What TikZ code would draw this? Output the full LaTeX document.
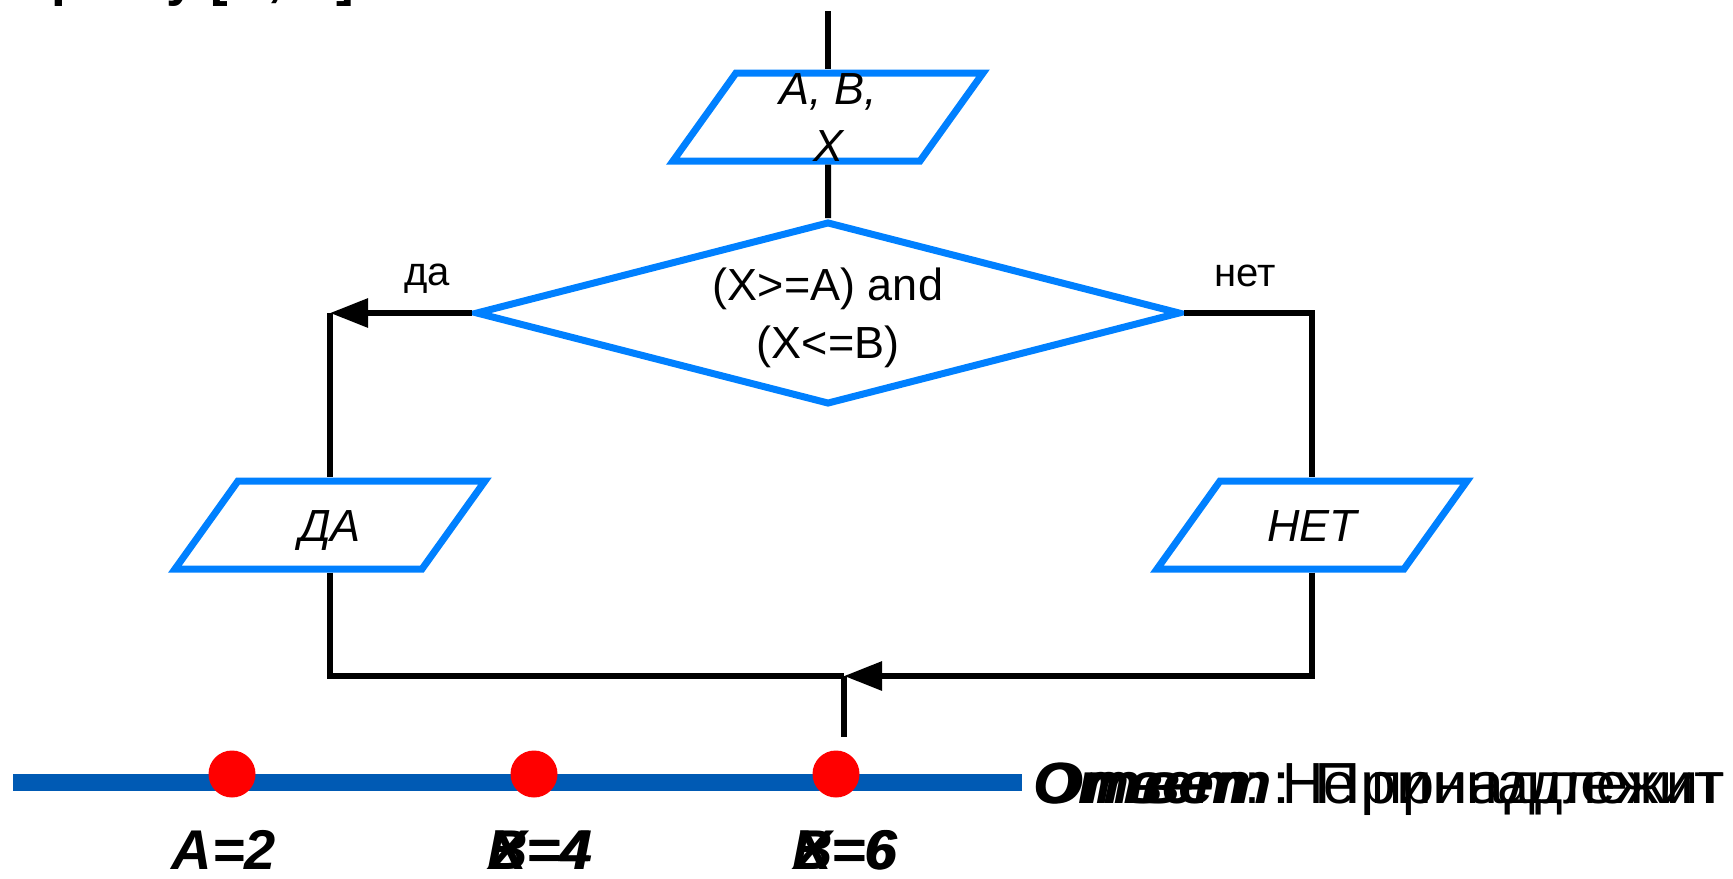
\documentclass[tikz,border=0pt]{standalone}
\usepackage{graphicx}
\usepackage{fontspec}
\setmainfont{Liberation Sans}
\usetikzlibrary{shapes.geometric,arrows.meta}
\definecolor{flow}{RGB}{0,128,255}
\definecolor{axis}{RGB}{0,90,180}

\begin{document}
\begin{tikzpicture}[x=0.5pt, y=-0.5pt, every node/.style={inner sep=0pt},
  inout/.style={draw=flow, line width=3.5pt, trapezium, trapezium left angle=54.4,
    trapezium right angle=125.6, text width=92pt, align=center,
    text height=30pt, text depth=14pt,
    font=\itshape\fontsize{22.5pt}{28.5pt}\selectfont},
  test/.style={draw=flow, line width=3.5pt, diamond, aspect=3.85, minimum width=352.5pt,
    minimum height=91.5pt, align=center, text depth=0pt, font=\fontsize{22.5pt}{29pt}\selectfont},
  wire/.style={line width=3pt},
  arr/.style={wire, -{Triangle[length=19pt, width=14pt]}},
  branch/.style={anchor=base, font=\fontsize{20pt}{24pt}\selectfont},
  val/.style={anchor=base, font=\bfseries\itshape\fontsize{28pt}{32pt}\selectfont},
  answer/.style={anchor=base west, font=\fontsize{29pt}{34pt}\selectfont}]
  \useasboundingbox (0,0) rectangle (1733,878);
  \node [anchor=base east, font=\bfseries\fontsize{26.5pt}{30pt}\selectfont] (task) at (355,-4) {отрезку [A; B]};
  \coordinate (top) at (828,11);
  \node [inout] (in) at (828,117) {};
  \node [align=center, font=\itshape\fontsize{22.5pt}{28.5pt}\selectfont] (intext) at (828,118) {A, B,\\X};
  \node [test] (if) at (828,313) {(X>=A) and\\(X<=B)};
  \node [inout] (yes) at (330,525) {ДА};
  \node [inout] (no) at (1312,525) {НЕТ};
  \node [branch] (da) at (427,285) {да};
  \node [branch] (net) at (1245,286) {нет};
  \coordinate (left) at (330,313);
  \coordinate (join) at (844,676);
  \coordinate (out) at (844,737);
  \draw [wire] (top) -- (in);
  \draw [wire] (in) -- (if);
  \draw [arr] (if) -- (left);
  \draw [wire] (left) -- (yes);
  \draw [wire] (if) -| (no);
  \draw [wire] (yes) |- (join);
  \draw [arr] (no) |- (join);
  \draw [wire] (join) -- (out);
  \draw [line width=8.5pt, axis] (13,782) -- (1022,782);
  \fill [red] (232,774) circle [radius=11.75pt];
  \fill [red] (534,774) circle [radius=11.75pt];
  \fill [red] (836,774) circle [radius=11.75pt];
  \node [val] (a) at (224,869) {A=2};
  \node [val] (b) at (540,869) {B=4};
  \node [val] (x4) at (540,869) {X=4};
  \node [val] (c) at (845,869) {B=6};
  \node [val] (x6) at (845,869) {X=6};
  \node [answer] (ans1) at (1033,803) {\resizebox{345.5pt}{\height}{\textbf{\textit{Ответ}}: Не принадлежит}};
  \node [answer] (ans2) at (1033,803) {\resizebox{345.5pt}{\height}{\textbf{\textit{Ответ}}: Принадлежит}};
\end{tikzpicture}
\end{document}
